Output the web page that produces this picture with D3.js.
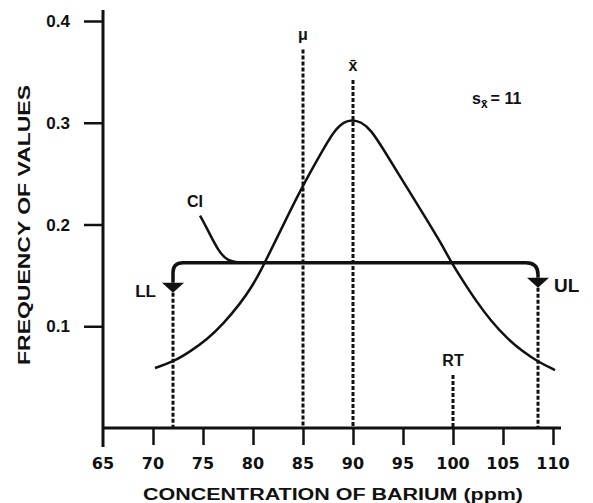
<!DOCTYPE html>
<html>
<head>
<meta charset="utf-8">
<script src="https://cdn.jsdelivr.net/npm/d3@7"></script>
<style>
  body { margin:0; background:#fff; }
  text { font-family:"Liberation Sans", Arial, sans-serif; font-weight:bold; fill:#111; }
</style>
</head>
<body>
<div id="chart_container"></div>
<script>
// Data.
var x_tick_array  = [65, 70, 75, 80, 85, 90, 95, 100, 105, 110];
var y_tick_array  = [0.1, 0.2, 0.3, 0.4];
var curve_x_array = [70.2, 72.0, 73.7, 75.4, 77.0, 78.7, 79.9, 80.8, 81.8, 82.9, 84.8, 86.8, 88.1, 89.1, 89.9, 90.8, 91.8, 93.1, 95.1, 97.3, 98.9, 99.7, 101.1, 102.3, 103.8, 105.5, 107.0, 108.5, 110.2];
var curve_y_array = [0.059, 0.065, 0.075, 0.087, 0.102, 0.122, 0.139, 0.155, 0.175, 0.197, 0.235, 0.270, 0.292, 0.301, 0.303, 0.301, 0.293, 0.273, 0.241, 0.206, 0.180, 0.165, 0.143, 0.125, 0.105, 0.087, 0.075, 0.065, 0.057];
var marker_name_array  = ["\u03bc", "x\u0304", "RT"];
var marker_value_array = [85, 90, 100];
var marker_top_array   = [0.372, 0.342, 0.052];
var limit_value_ll = 72.0;
var limit_value_ul = 108.5;
var ci_level       = 0.1625;
var s_x_value      = 11;

var dimension = { height:503, width:593 };
var ink       = "#111";

var svg = d3.select("#chart_container").append("svg")
  .attr("height", dimension.height)
  .attr("width" , dimension.width);

var x = d3.scaleLinear().domain([65, 110]).range([103, 553]);
var y = d3.scaleLinear().domain([0, 0.4]).range([428, 21]);

// Axes.
var x_axis = d3.axisBottom(x).tickValues(x_tick_array.slice(1)).tickSize(17).tickFormat("");
svg.append("g")
  .attr("transform", "translate(0," + y(0) + ")")
  .call(x_axis)
  .call(function (g) { g.select(".domain").remove(); })
  .selectAll("line").attr("stroke", ink).attr("stroke-width", 2.5);
svg.append("line")
  .attr("x1", x(65) - 1).attr("x2", x(110.8))
  .attr("y1", y(0)).attr("y2", y(0))
  .style("stroke", ink).style("stroke-width", 3);

var y_axis = d3.axisLeft(y).tickValues(y_tick_array).tickSize(19).tickFormat("");
svg.append("g")
  .attr("transform", "translate(" + x(65) + ",0)")
  .call(y_axis)
  .call(function (g) { g.select(".domain").remove(); })
  .selectAll("line").attr("stroke", ink).attr("stroke-width", 2.5);
svg.append("line")
  .attr("x1", x(65)).attr("x2", x(65))
  .attr("y1", 10).attr("y2", y(0) + 19)
  .style("stroke", ink).style("stroke-width", 3);

svg.selectAll(".x_tick_label").data(x_tick_array).enter().append("text")
  .attr("class"      , "x_tick_label")
  .attr("x"          , function (d) { return x(d); })
  .attr("y"          , 469)
  .attr("text-anchor", "middle")
  .style("font-family", "'DejaVu Sans', sans-serif")
  .style("font-size" , "16px")
  .text(function (d) { return d; });

svg.selectAll(".y_tick_label").data(y_tick_array).enter().append("text")
  .attr("class"      , "y_tick_label")
  .attr("x"          , 70)
  .attr("y"          , function (d) { return y(d) + 6; })
  .attr("text-anchor", "end")
  .style("font-size" , "17px")
  .text(function (d) { return d.toFixed(1); });

svg.append("text")
  .attr("x"           , 333)
  .attr("y"           , 500)
  .attr("text-anchor" , "middle")
  .attr("textLength"  , 380)
  .attr("lengthAdjust", "spacingAndGlyphs")
  .style("font-size"  , "16px")
  .text("CONCENTRATION OF BARIUM (ppm)");

svg.append("text")
  .attr("transform"   , "translate(30," + 225 + ") rotate(-90)")
  .attr("text-anchor" , "middle")
  .attr("textLength"  , 280)
  .attr("lengthAdjust", "spacingAndGlyphs")
  .style("font-size"  , "16px")
  .text("FREQUENCY OF VALUES");

// Vertical dashed markers.
for (var i = 0; i < marker_value_array.length; i ++) {
  svg.append("line")
    .attr("x1", x(marker_value_array[i])).attr("x2", x(marker_value_array[i]))
    .attr("y1", y(marker_top_array[i])).attr("y2", y(0))
    .style("stroke", ink).style("stroke-width", 3)
    .style("stroke-dasharray", "4,2");
  svg.append("text")
    .attr("x"          , x(marker_value_array[i]))
    .attr("y"          , y(marker_top_array[i]) - 9)
    .attr("text-anchor", "middle")
    .style("font-size" , "16px")
    .text(marker_name_array[i]);
}

// Distribution curve.
var line = d3.line()
  .x(function (d) { return x(d[0]); })
  .y(function (d) { return y(d[1]); })
  .curve(d3.curveBasis);
svg.append("path")
  .datum(d3.zip(curve_x_array, curve_y_array))
  .attr("d", line)
  .style("fill", "none")
  .style("stroke", ink)
  .style("stroke-width", 2.5);

// Confidence interval bracket with its limits.
var ci_y   = y(ci_level);
var ll_x   = x(limit_value_ll);
var ul_x   = x(limit_value_ul);
var tri_ll = ci_y + 20;
var tri_ul = ci_y + 15;
svg.append("path")
  .attr("d", "M" + ll_x + "," + tri_ll + " L" + ll_x + "," + (ci_y + 10) +
             " Q" + ll_x + "," + ci_y + " " + (ll_x + 10) + "," + ci_y +
             " L" + (ul_x - 12) + "," + ci_y +
             " Q" + ul_x + "," + ci_y + " " + ul_x + "," + (ci_y + 12) +
             " L" + ul_x + "," + tri_ul)
  .style("fill", "none").style("stroke", ink).style("stroke-width", 3.5);

[[ll_x, tri_ll], [ul_x, tri_ul]].forEach(function (p) {
  svg.append("path")
    .attr("d", "M" + (p[0] - 11) + "," + p[1] + " L" + (p[0] + 11) + "," + p[1] + " L" + p[0] + "," + (p[1] + 10) + "Z")
    .style("fill", ink);
  svg.append("line")
    .attr("x1", p[0]).attr("x2", p[0])
    .attr("y1", p[1] + 10).attr("y2", y(0))
    .style("stroke", ink).style("stroke-width", 3)
    .style("stroke-dasharray", "4,2");
});

svg.append("text")
  .attr("x", ll_x - 17).attr("y", tri_ll + 14)
  .attr("text-anchor", "end")
  .style("font-size", "17px")
  .text("LL");
svg.append("text")
  .attr("x", ul_x + 16).attr("y", tri_ul + 14)
  .style("font-size", "19px")
  .text("UL");

// CI leader.
var ci_join = x(77.3);
svg.append("path")
  .attr("d", "M" + (ci_join - 26) + "," + (ci_y - 47) +
             " C" + (ci_join - 16) + "," + (ci_y - 30) + " " + (ci_join - 8) + "," + (ci_y - 8) + " " + (ci_join + 2) + "," + (ci_y - 3) +
             " Q" + (ci_join + 8) + "," + ci_y + " " + (ci_join + 20) + "," + ci_y)
  .style("fill", "none").style("stroke", ink).style("stroke-width", 2.5);
svg.append("text")
  .attr("x", ci_join - 31).attr("y", ci_y - 56)
  .attr("text-anchor", "middle")
  .style("font-size", "16px")
  .text("CI");

// Standard error note.
var note = svg.append("text").attr("x", 472).attr("y", 104).style("font-size", "16px");
note.append("tspan").text("s");
note.append("tspan").attr("dy", 4).style("font-size", "12px").text("x\u0304");
note.append("tspan").attr("dy", -4).attr("dx", 3).text("= " + s_x_value);
</script>
</body>
</html>
